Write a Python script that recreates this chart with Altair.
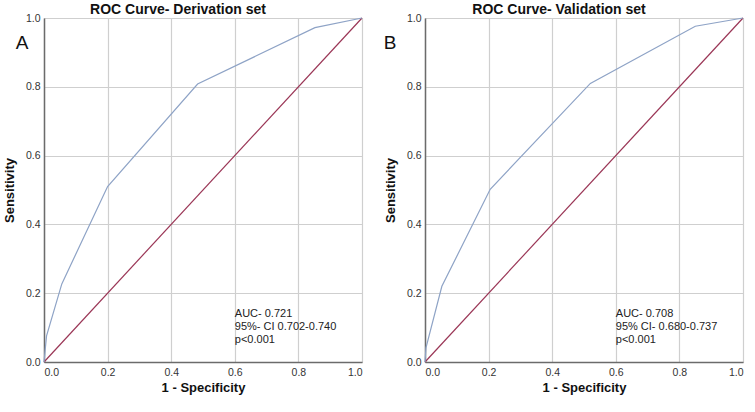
import altair as alt
import pandas as pd

# Derivation set ROC curve points
deriv_fpr = [0.0, 0.008, 0.056, 0.2, 0.483, 0.852, 1.0]
deriv_tpr = [0.0, 0.076, 0.227, 0.51, 0.808, 0.972, 1.0]
# Validation set ROC curve points
valid_fpr = [0.0, 0.003, 0.053, 0.205, 0.52, 0.85, 1.0]
valid_tpr = [0.0, 0.041, 0.22, 0.502, 0.81, 0.976, 1.0]

diag = [0.0, 1.0]
ticks = [0.0, 0.2, 0.4, 0.6, 0.8, 1.0]

titles = ["ROC Curve- Derivation set", "ROC Curve- Validation set"]
letters = ["A", "B"]
notes = [
    "AUC- 0.721\n95%- CI 0.702-0.740\np<0.001",
    "AUC- 0.708\n95% CI- 0.680-0.737\np<0.001",
]

FONT = "Liberation Sans"
BLUE = "#8ea3c6"
RED = "#9a3656"
W, H = 318, 344


def panel(fpr, tpr, title, letter, note, title_dx, letter_x):
    curve = pd.DataFrame({"x": fpr, "y": tpr})
    dline = pd.DataFrame({"x": diag, "y": diag})
    xs = alt.Scale(domain=[0, 1], nice=False)
    ys = alt.Scale(domain=[0, 1], nice=False)
    xax = alt.Axis(values=ticks, format=".1f", title="1 - Specificity",
                   grid=True, gridColor="#cfcfcf", gridWidth=1.2,
                   domainColor="#6b6b6b", domainWidth=1.5, ticks=False,
                   labelPadding=5, labelFontSize=10.5, labelColor="#333333",
                   labelFont=FONT, titleFont=FONT, titleFontSize=13,
                   titleFontWeight="bold", titleColor="#111111", titlePadding=4)
    yax = alt.Axis(values=ticks, format=".1f", title="Sensitivity",
                   grid=True, gridColor="#cfcfcf", gridWidth=1.2,
                   domainColor="#6b6b6b", domainWidth=1.5, ticks=False,
                   labelPadding=4, labelFontSize=10.5, labelColor="#333333",
                   labelFont=FONT, titleFont=FONT, titleFontSize=13,
                   titleFontWeight="bold", titleColor="#111111", titlePadding=9)
    base_line = alt.Chart(dline).mark_line(color=RED, strokeWidth=1.2).encode(
        x=alt.X("x:Q", scale=xs, axis=xax),
        y=alt.Y("y:Q", scale=ys, axis=yax),
    )
    roc = alt.Chart(curve).mark_line(color=BLUE, strokeWidth=1.2).encode(
        x=alt.X("x:Q", scale=xs),
        y=alt.Y("y:Q", scale=ys),
    )
    txt = alt.Chart(pd.DataFrame({"t": [note]})).mark_text(
        align="left", baseline="alphabetic", font=FONT, fontSize=11,
        lineBreak="\n", lineHeight=13, color="#222222"
    ).encode(x=alt.value(0.6 * W), y=alt.value(H * (1 - 0.13)), text="t:N")
    let = alt.Chart(pd.DataFrame({"t": [letter]})).mark_text(
        align="center", baseline="alphabetic", font=FONT, fontSize=19,
        color="#111111"
    ).encode(x=alt.value(letter_x), y=alt.value(31), text="t:N")
    return alt.layer(base_line, roc, txt, let).properties(
        width=W, height=H,
        title=alt.TitleParams(title, font=FONT, fontSize=14, fontWeight="bold",
                              color="#111111", anchor="middle", dx=title_dx,
                              offset=-4),
    )


left = panel(deriv_fpr, deriv_tpr, titles[0], letters[0], notes[0], -25, -22)
right = panel(valid_fpr, valid_tpr, titles[1], letters[1], notes[1], -25, -35)

chart = alt.hconcat(left, right, spacing=18).properties(
    padding={"left": 2, "top": 2, "right": 2, "bottom": 2}
).configure_view(stroke=None).configure(background="white")

chart.save("out.html", embed_options={"renderer": "svg", "actions": False})
